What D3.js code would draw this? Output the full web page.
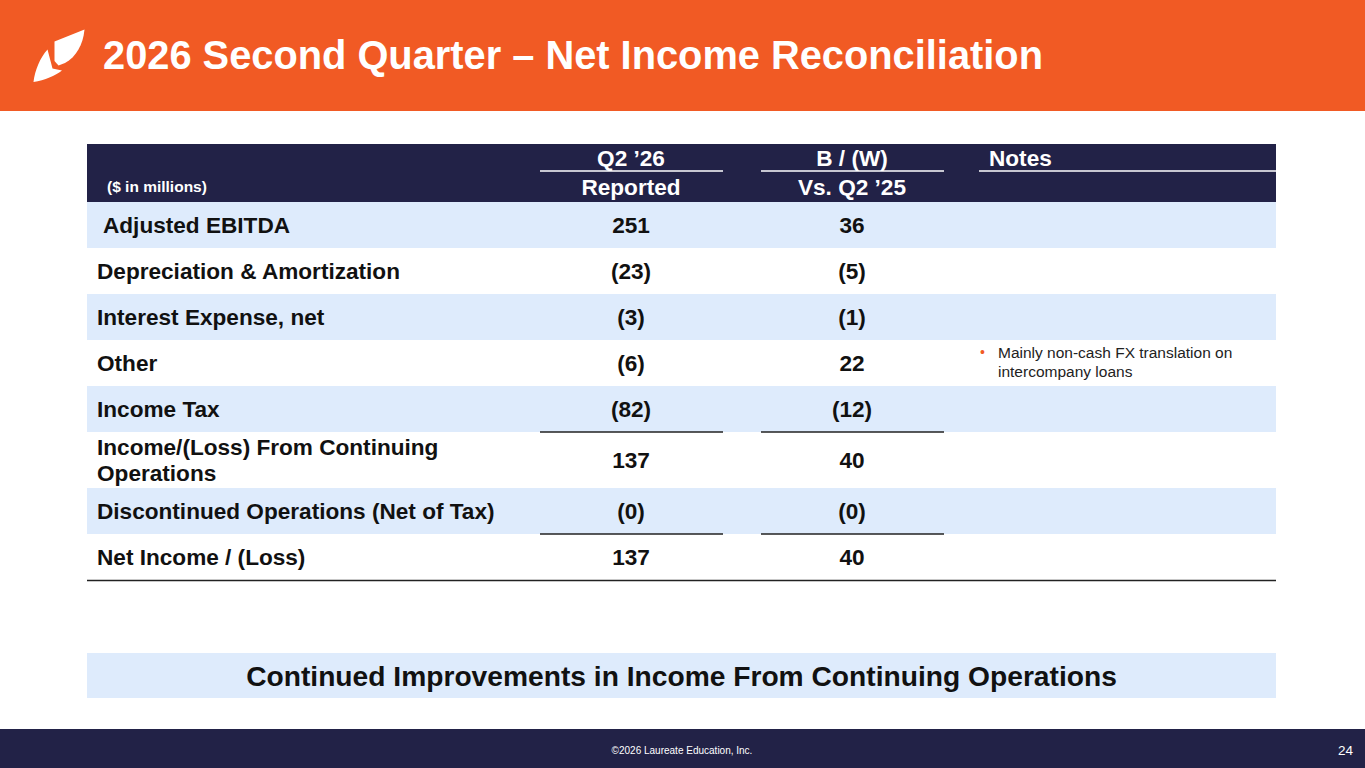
<!DOCTYPE html>
<html><head><meta charset="utf-8">
<script src="https://cdn.jsdelivr.net/npm/d3@7"></script>
<style>
html,body{margin:0;padding:0;background:#fff;}
svg{display:block;font-family:"Liberation Sans",Arial,sans-serif;}
</style></head>
<body>
<svg id="c" width="1365" height="768"></svg>
<script>
const title = "2026 Second Quarter \u2013 Net Income Reconciliation";
const unitsLabel = "($ in millions)";
const colGroupHeaders = ["Q2 \u201926", "B / (W)", "Notes"];
const colSubHeaders = ["Reported", "Vs. Q2 \u201925", ""];
const rowLabels = [
  ["Adjusted EBITDA"],
  ["Depreciation & Amortization"],
  ["Interest Expense, net"],
  ["Other"],
  ["Income Tax"],
  ["Income/(Loss) From Continuing", "Operations"],
  ["Discontinued Operations (Net of Tax)"],
  ["Net Income / (Loss)"]
];
const reported = [251, -23, -3, -6, -82, 137, -0, 137];
const versusPrior = [36, -5, -1, 22, -12, 40, -0, 40];
const notes = ["", "", "", "Mainly non-cash FX translation on|intercompany loans", "", "", "", ""];
const underlinedRows = [4, 6];
const conclusion = "Continued Improvements in Income From Continuing Operations";
const footerText = "\u00a92026 Laureate Education, Inc.";
const pageNumber = "24";

const ORANGE = "#F15A24", NAVY = "#222247", LIGHT = "#DEEBFC", INK = "#111";
const svg = d3.select("#c");
const W = 1365;

// header band
svg.append("rect").attr("x",0).attr("y",0).attr("width",W).attr("height",111).attr("fill",ORANGE);
// logo
svg.append("path").attr("fill","#fff")
  .attr("d","M54.5,41.5 L84.5,29.5 C83,45 76,57 65,63 L58.5,65.5 L54.5,61 Z");
svg.append("path").attr("fill","#fff")
  .attr("d","M33.5,82 C35,70 40,58 47.5,49.5 L52.5,68.5 L62,70.5 C55,76 45,80 33.5,82 Z");
svg.append("text").attr("x",103).attr("y",68.5).attr("fill","#fff")
  .attr("font-size",39.8).attr("font-weight","bold").text(title);

// table geometry
const tL = 87, tR = 1276;
const colX = d3.scaleOrdinal().domain(["reported","bw","notes"]).range([631, 852, 979]);
const colSpan = d3.scaleOrdinal().domain(["reported","bw","notes"]).range([[540,723],[761,944],[979,1276]]);
const headTop = 144, headBot = 202;
svg.append("rect").attr("x",tL).attr("y",headTop).attr("width",tR-tL).attr("height",headBot-headTop).attr("fill",NAVY);

const FS = 22.6;
const keys = ["reported","bw","notes"];
keys.forEach((k,i)=>{
  const [a,b] = colSpan(k);
  svg.append("line").attr("x1",a).attr("x2",b).attr("y1",171).attr("y2",171)
    .attr("stroke","#fff").attr("stroke-width",1.6);
  const t = svg.append("text").attr("y",166).attr("fill","#fff")
    .attr("font-size",FS).attr("font-weight","bold").text(colGroupHeaders[i]);
  if (k==="notes") t.attr("x",989); else t.attr("x",colX(k)).attr("text-anchor","middle");
  if (colSubHeaders[i]) svg.append("text").attr("x",colX(k)).attr("y",195).attr("text-anchor","middle")
    .attr("fill","#fff").attr("font-size",FS).attr("font-weight","bold").text(colSubHeaders[i]);
});
svg.append("text").attr("x",107).attr("y",192).attr("fill","#fff")
  .attr("font-size",15.5).attr("font-weight","bold").text(unitsLabel);

// rows
const base = 46, extra = 10;
const heights = rowLabels.map(l => base + (l.length-1)*extra);
const tops = [headBot, ...d3.cumsum(heights).map(v=>headBot+v)];
const fmt = v => (v < 0 || Object.is(v,-0)) ? "(" + Math.abs(v) + ")" : String(v);

const rows = svg.append("g").selectAll("g").data(rowLabels).join("g")
  .attr("transform",(d,i)=>`translate(0,${tops[i]})`);
rows.append("rect").attr("x",tL).attr("width",tR-tL).attr("height",(d,i)=>heights[i])
  .attr("fill",(d,i)=> i%2===0 ? LIGHT : "#fff");
rows.each(function(lines,i){
  const g = d3.select(this);
  const h = heights[i];
  const lh = 26;
  const y0 = h/2 + 8 - (lines.length-1)*lh/2;
  lines.forEach((ln,j)=>{
    g.append("text").attr("x", i===0 ? 103 : 97).attr("y", y0 + j*lh)
      .attr("fill",INK).attr("font-size",FS).attr("font-weight","bold").text(ln);
  });
  g.append("text").attr("x",colX("reported")).attr("y",h/2+8).attr("text-anchor","middle")
    .attr("fill",INK).attr("font-size",FS).attr("font-weight","bold").text(fmt(reported[i]));
  g.append("text").attr("x",colX("bw")).attr("y",h/2+8).attr("text-anchor","middle")
    .attr("fill",INK).attr("font-size",FS).attr("font-weight","bold").text(fmt(versusPrior[i]));
  if (notes[i]) {
    const nl = notes[i].split("|");
    g.append("text").attr("x",980).attr("y",h/2 - 6).attr("fill",ORANGE).attr("font-size",14).text("\u2022");
    nl.forEach((t,j)=>{
      g.append("text").attr("x",998).attr("y",h/2 - 5.5 + j*19).attr("fill","#222")
        .attr("font-size",15.5).text(t);
    });
  }
});
// underlines beneath subtotal rows
underlinedRows.forEach(r=>{
  ["reported","bw"].forEach(k=>{
    const [a,b] = colSpan(k);
    svg.append("line").attr("x1",a).attr("x2",b).attr("y1",tops[r+1]).attr("y2",tops[r+1])
      .attr("stroke","#222").attr("stroke-width",1.5);
  });
});
svg.append("line").attr("x1",tL).attr("x2",tR).attr("y1",tops[rowLabels.length]+0.5).attr("y2",tops[rowLabels.length]+0.5)
  .attr("stroke","#222").attr("stroke-width",1.6);

// conclusion banner
svg.append("rect").attr("x",tL).attr("y",653).attr("width",tR-tL).attr("height",45).attr("fill",LIGHT);
svg.append("text").attr("x",(tL+tR)/2).attr("y",686).attr("text-anchor","middle").attr("fill",INK)
  .attr("font-size",28.2).attr("font-weight","bold").text(conclusion);

// footer
svg.append("rect").attr("x",0).attr("y",729).attr("width",W).attr("height",39).attr("fill",NAVY);
svg.append("text").attr("x",682).attr("y",754).attr("text-anchor","middle").attr("fill","#fff")
  .attr("font-size",10).text(footerText);
svg.append("text").attr("x",1353).attr("y",755).attr("text-anchor","end").attr("fill","#fff")
  .attr("font-size",13.5).text(pageNumber);
</script>
</body></html>
